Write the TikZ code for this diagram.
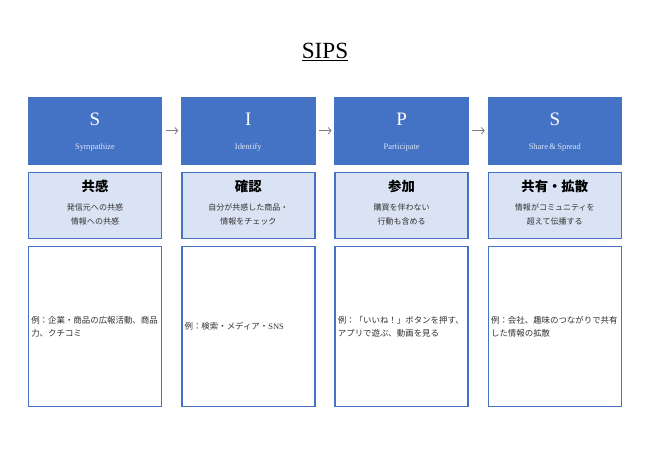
\documentclass[tikz,border=0pt]{standalone}
\usepackage{fontspec}
\setmainfont{Liberation Serif}
\newfontfamily\jp{Noto Sans CJK JP}
\usetikzlibrary{arrows.meta}

\begin{document}
\begin{tikzpicture}[
    stagebox/.style={draw=sipsblue, fill=sipsblue, line width=1pt, minimum width=3.325cm, minimum height=1.667cm, inner sep=0pt},
    summarybox/.style={draw=sipsblue, fill=sipslight, line width=1pt, minimum width=3.325cm, minimum height=1.65cm, inner sep=0pt},
    examplebox/.style={draw=sipsblue, fill=white, line width=1pt, minimum width=3.325cm, minimum height=4cm, inner sep=0pt},
    letter/.style={text=white, font=\fontsize{13.5}{15}\selectfont},
    stagename/.style={text=sipspale, font=\fontsize{6}{7}\selectfont},
    heading/.style={font=\jp\bfseries\fontsize{9.5}{11}\selectfont},
    note/.style={text=darktext, align=center, font=\jp\fontsize{5.7}{10}\selectfont},
    detail/.style={text=darktext, align=left, anchor=west, inner sep=0pt, font=\jp\fontsize{6}{9.5}\selectfont},
    flow/.style={draw=arrowgray, line width=0.6pt, -{Straight Barb[length=2pt, width=4.5pt]}, shorten <=2.5pt, shorten >=2pt}
]

    % Define custom colors
    \definecolor{sipsblue}{RGB}{68, 114, 196}
    \definecolor{sipslight}{RGB}{218, 227, 243}
    \definecolor{sipspale}{RGB}{222, 231, 246}
    \definecolor{darktext}{RGB}{50, 50, 50}
    \definecolor{arrowgray}{RGB}{128, 128, 128}

    \useasboundingbox (0,0) rectangle (16.25,11.5);

    % 1. Title
    \node[anchor=base, font=\fontsize{16.5}{18}\selectfont] (title) at (8.125,10.04) {\underline{SIPS}};

    % 2. Stage boxes (blue)
    \node[stagebox] (S1) at (2.375,8.233) {};
    \node[stagebox] (I1) at (6.208,8.233) {};
    \node[stagebox] (P1) at (10.04,8.233) {};
    \node[stagebox] (S4) at (13.87,8.233) {};

    \node[letter] (S1l) at ([yshift=0.285cm]S1.center) {S};
    \node[letter] (I1l) at ([yshift=0.285cm]I1.center) {I};
    \node[letter] (P1l) at ([yshift=0.285cm]P1.center) {P};
    \node[letter] (S4l) at ([yshift=0.285cm]S4.center) {S};

    \node[stagename] (S1n) at ([yshift=-0.415cm]S1.center) {Sympathize};
    \node[stagename] (I1n) at ([yshift=-0.415cm]I1.center) {Identify};
    \node[stagename] (P1n) at ([yshift=-0.415cm]P1.center) {Participate};
    \node[stagename] (S4n) at ([yshift=-0.415cm]S4.center) {Share\,\&\,Spread};

    % 3. Arrows between stages
    \draw[flow] (S1.east) -- (I1.west);
    \draw[flow] (I1.east) -- (P1.west);
    \draw[flow] (P1.east) -- (S4.west);

    % 4. Summary boxes (light blue)
    \node[summarybox] (S2) at (2.375,6.368) {};
    \node[summarybox] (I2) at (6.208,6.368) {};
    \node[summarybox] (P2) at (10.04,6.368) {};
    \node[summarybox] (S5) at (13.87,6.368) {};

    \node[heading] (S2h) at ([yshift=0.465cm]S2.center) {共感};
    \node[heading] (I2h) at ([yshift=0.465cm]I2.center) {確認};
    \node[heading] (P2h) at ([yshift=0.465cm]P2.center) {参加};
    \node[heading] (S5h) at ([yshift=0.465cm]S5.center) {共有・拡散};

    \node[note] (S2t) at ([yshift=-0.235cm]S2.center) {発信元への共感\\情報への共感};
    \node[note] (I2t) at ([yshift=-0.235cm]I2.center) {自分が共感した商品・\\情報をチェック};
    \node[note] (P2t) at ([yshift=-0.235cm]P2.center) {購買を伴わない\\行動も含める};
    \node[note] (S5t) at ([yshift=-0.235cm]S5.center) {情報がコミュニティを\\超えて伝播する};

    % 5. Example boxes (white)
    \node[examplebox] (S3) at (2.375,3.333) {};
    \node[examplebox] (I3) at (6.208,3.333) {};
    \node[examplebox] (P3) at (10.04,3.333) {};
    \node[examplebox] (S6) at (13.87,3.333) {};

    \node[detail] (S3t) at ([xshift=0.08cm]S3.west) {例：企業・商品の広報活動、商品\\力、クチコミ};
    \node[detail] (I3t) at ([xshift=0.08cm]I3.west) {例：検索・メディア・{\rmfamily SNS}};
    \node[detail] (P3t) at ([xshift=0.08cm]P3.west) {例：「いいね！」ボタンを押す、\\アプリで遊ぶ、動画を見る};
    \node[detail] (S6t) at ([xshift=0.08cm]S6.west) {例：会社、趣味のつながりで共有\\した情報の拡散};

\end{tikzpicture}
\end{document}
